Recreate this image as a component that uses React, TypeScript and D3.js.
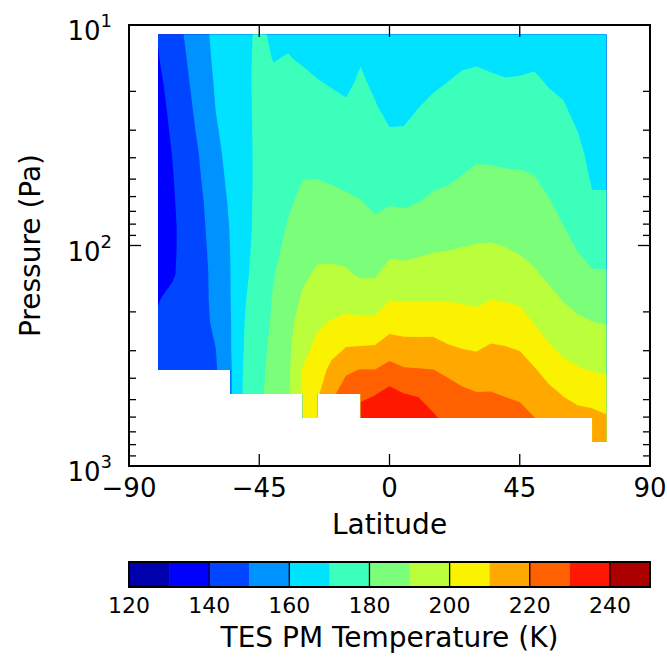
import React from 'react';
import * as d3 from 'd3';

// Latitude grid (deg) and pressure levels (Pa), top (low pressure) to bottom
const LATITUDES = [-80, -75, -70, -65, -60, -55, -50, -45, -40, -35, -30, -25, -20, -15, -10, -5, 0, 5, 10, 15, 20, 25, 30, 35, 40, 45, 50, 55, 60, 65, 70, 75];
const PRESSURES = [11.0, 14.2, 18.2, 23.3, 30.0, 38.5, 49.5, 63.5, 81.7, 104.9, 134.9, 173.0, 222.3, 285.8, 367.3, 471.0, 605.3, 778.0];

// Temperature (K) per latitude column, one value per pressure level (null = no data)
const T_m80 = [140.4, 139.5, 138.1, 137, 136.3, 135.5, 135, 134.7, 135, 135.5, 137, 139.5, 141, 142, 143, null, null, null];
const T_m75 = [145.6, 144.6, 143.3, 142.2, 141.1, 140.2, 139.5, 139, 138.6, 138.7, 139.1, 141.8, 142.8, 143.5, 144.5, null, null, null];
const T_m70 = [151.3, 150.1, 148.9, 147.8, 146.7, 145.6, 144.9, 144.1, 143.4, 143.2, 143.3, 144.9, 145.5, 145.6, 146, null, null, null];
const T_m65 = [157.4, 156.4, 155, 153.6, 152.3, 150.9, 150.1, 149, 148.3, 147.7, 147.2, 147.8, 148.2, 147.8, 147.5, null, null, null];
const T_m60 = [162.1, 161.7, 161, 160.3, 159.1, 157.7, 156.5, 155.2, 154.3, 153.6, 153, 152.2, 151.2, 150.1, 149.1, null, null, null];
const T_m55 = [165.3, 165.1, 164.7, 164.3, 163.8, 163.1, 162.3, 161.3, 160.5, 160.1, 159.9, 159.8, 159.4, 159.3, 158.6, 158.5, null, null];
const T_m50 = [168.8, 168.8, 168.7, 168.6, 168.4, 168.3, 168.1, 167.8, 167.6, 167.9, 168.3, 169.4, 170.1, 170.8, 171.7, 172.2, null, null];
const T_m45 = [171, 171.3, 171.5, 171.5, 171.5, 171.5, 171.6, 172.1, 172.5, 173.2, 174.1, 175, 175.6, 176.7, 177.5, 178.3, null, null];
const T_m40 = [169, 169.8, 171, 172, 172.8, 173.6, 174.4, 175.6, 176.7, 178.1, 179.6, 180.8, 181.5, 182.7, 183.4, 183.7, null, null];
const T_m35 = [168.9, 170.3, 171.7, 173.2, 174.6, 176, 176.9, 178.8, 180.6, 182.1, 183.9, 185.7, 186.9, 188.1, 188.2, 188.3, null, null];
const T_m30 = [167.3, 169.3, 171.5, 173.6, 175.7, 177.8, 179.8, 182, 184.2, 186.4, 188.5, 191, 194.3, 196.7, 200.5, 202, 204, null];
const T_m25 = [165.6, 168, 170.4, 172.8, 175.1, 177.5, 179.9, 182.6, 185.4, 188.2, 191.2, 194.8, 198.5, 202, 205.5, 208.5, 206, null];
const T_m20 = [164.5, 166.9, 169.4, 171.8, 174.3, 176.7, 179.2, 182, 185, 188, 191.5, 195.9, 200.5, 206.5, 212.5, 218, null, null];
const T_m15 = [163.4, 165.9, 168.4, 170.9, 173.4, 175.9, 178.4, 181.2, 184.3, 187.5, 191, 196.7, 201.7, 209.7, 218.5, 225, null, null];
const T_m10 = [167.6, 169.4, 171.2, 173, 174.8, 176.6, 178.4, 180.2, 183.2, 186.1, 189, 194.7, 202, 210, 220.4, 228, 234, null];
const T_m5 = [164.4, 166.4, 168.5, 170.5, 172.5, 174.6, 176.6, 178.6, 181.3, 185.2, 189, 195, 202, 210.4, 220.2, 229.6, 236, null];
const T_0 = [162, 163.5, 165, 167.4, 170.4, 173.3, 176.3, 179.3, 183.5, 188.1, 193.4, 199.3, 206, 214, 223.6, 233, 238, null];
const T_5 = [162, 163.5, 165.2, 167.6, 170.5, 173.3, 176.1, 178.9, 183, 187.6, 193, 199, 205.7, 212.7, 221, 230.2, 237, null];
const T_10 = [163, 164.8, 167, 169.8, 172.3, 174.8, 177.4, 179.9, 184.2, 188.5, 193.5, 198.9, 205.6, 212.6, 220.6, 229, 236, null];
const T_15 = [164, 166.5, 168.9, 171.3, 173.6, 176, 178.3, 181.4, 185.5, 189.5, 194.2, 199, 205.6, 212.8, 220.2, 225.8, 231.4, null];
const T_20 = [165.5, 167.7, 170, 172.3, 174.5, 176.8, 179, 182.2, 186, 189.8, 194.5, 199.2, 204.8, 210.5, 218.4, 223.6, 227.5, null];
const T_25 = [166.6, 168.9, 171.1, 173.4, 175.7, 177.9, 180.3, 183.6, 186.9, 190.4, 194.6, 198.8, 203.9, 209.3, 215.7, 222, 226, null];
const T_30 = [166.8, 169.2, 171.6, 174.1, 176.5, 178.9, 181.6, 184.6, 187.6, 190.8, 194.5, 198.2, 202.9, 208.6, 214.5, 220.5, 225, null];
const T_35 = [166, 168.5, 171.1, 173.6, 176.2, 178.7, 181.5, 184.6, 187.7, 191.1, 195.4, 199.6, 205.1, 210.6, 215.6, 220.5, 225, null];
const T_40 = [165.3, 168, 170.5, 173.2, 175.8, 178.4, 181.1, 184.2, 187.2, 190.4, 194.7, 199.1, 204.4, 210, 214.7, 219.4, 224, null];
const T_45 = [165.7, 168.2, 170.7, 173.3, 175.8, 178.3, 180.9, 183.7, 186.4, 189.2, 193.4, 198.2, 203.5, 209, 213.8, 218.5, 223, null];
const T_50 = [166.4, 168.7, 171.1, 173.4, 175.7, 178.1, 180.3, 182.9, 185.4, 188, 190.9, 195.2, 199.5, 205.1, 210.8, 215.5, 220.2, null];
const T_55 = [165.1, 167.3, 169.5, 171.6, 173.8, 176, 178.2, 180.4, 183.1, 185.8, 188.5, 192, 196.3, 200.7, 206.6, 212.4, 216, null];
const T_60 = [164.7, 166.6, 168.6, 170.5, 172.4, 174.3, 176.2, 178.1, 180.1, 183.1, 186.2, 189.4, 193.3, 197.5, 202.8, 209.5, 214, null];
const T_65 = [162.1, 164.1, 166.1, 168, 169.9, 172, 173.9, 175.9, 177.9, 179.8, 183.5, 187.3, 191.3, 195.9, 200.8, 207.3, 213, null];
const T_70 = [162, 163, 164, 165, 166.2, 167.7, 169.1, 170.9, 174.1, 177.3, 180.8, 185.4, 190.1, 194.8, 199.6, 205.6, 213, 215];
const T_75 = [162, 163, 164, 165, 166.2, 167.7, 169.1, 170.9, 174.1, 177.3, 180.7, 185, 189.4, 194.2, 199, 204.2, 211, 213];

const COLUMNS = [T_m80, T_m75, T_m70, T_m65, T_m60, T_m55, T_m50, T_m45, T_m40, T_m35, T_m30, T_m25, T_m20, T_m15, T_m10, T_m5, T_0, T_5, T_10, T_15, T_20, T_25, T_30, T_35, T_40, T_45, T_50, T_55, T_60, T_65, T_70, T_75];

// Contour levels and colours (jet, 13 bands)
const LEVELS = [120, 130, 140, 150, 160, 170, 180, 190, 200, 210, 220, 230, 240, 250];
const BAND_COLORS = ['#0000ac', '#0000ff', '#0045ff', '#0093ff', '#00e2ff', '#3cffbb', '#7bff7b', '#bbff3c', '#faf200', '#ffa900', '#ff6000', '#ff1800', '#ac0000'];
const X_TICKS = [-90, -45, 0, 45, 90];
const Y_MAJOR = [10, 100, 1000];
const Y_EXP = ['1', '2', '3'];
const Y_MINOR = [20, 30, 40, 50, 60, 70, 80, 90, 200, 300, 400, 500, 600, 700, 800, 900];
const CB_TICKS = [120, 140, 160, 180, 200, 220, 240];

const FONT = 'DejaVu Sans, Liberation Sans, sans-serif';
const L = 129, R = 650, T = 25, B = 466;
const CB_T = 562, CB_B = 587;

export default function App() {
  const x = d3.scaleLinear().domain([-90, 90]).range([L, R]);
  const y = d3.scaleLog().domain([10, 1000]).range([T, B]);
  const cb = d3.scaleLinear().domain([120, 250]).range([L, R]);

  const nx = LATITUDES.length;
  const ny = PRESSURES.length;
  const grid: number[] = new Array(nx * ny);
  for (let j = 0; j < ny; j++) {
    for (let i = 0; i < nx; i++) {
      const v = COLUMNS[i][j];
      grid[j * nx + i] = v == null ? -1e6 : v;
    }
  }
  const contours = d3.contours().size([nx, ny]).thresholds(LEVELS.slice(0, 13))(grid);

  const fx = (c: number) => {
    const f = Math.max(0, Math.min(nx - 1, c - 0.5));
    const i0 = Math.min(nx - 2, Math.floor(f));
    const t = f - i0;
    return x(LATITUDES[i0] + (LATITUDES[i0 + 1] - LATITUDES[i0]) * t);
  };
  const fy = (c: number) => {
    const f = Math.max(0, Math.min(ny - 1, c - 0.5));
    const j0 = Math.min(ny - 2, Math.floor(f));
    const t = f - j0;
    const lp = Math.log10(PRESSURES[j0]) + (Math.log10(PRESSURES[j0 + 1]) - Math.log10(PRESSURES[j0])) * t;
    return y(Math.pow(10, lp));
  };
  const toPath = (geom: any) => {
    let s = '';
    for (const poly of geom.coordinates) {
      for (const ring of poly) {
        ring.forEach((p: number[], k: number) => {
          s += (k === 0 ? 'M' : 'L') + fx(p[0]).toFixed(2) + ',' + fy(p[1]).toFixed(2);
        });
        s += 'Z';
      }
    }
    return s;
  };

  // valid region: cells whose four corners all have data, merged per row into one path
  let clipD = '';
  for (let j = 0; j < ny - 1; j++) {
    let i = 0;
    while (i < nx - 1) {
      const ok = (k: number) =>
        COLUMNS[k][j] != null && COLUMNS[k + 1][j] != null && COLUMNS[k][j + 1] != null && COLUMNS[k + 1][j + 1] != null;
      if (!ok(i)) { i++; continue; }
      let e = i;
      while (e + 1 < nx - 1 && ok(e + 1)) e++;
      const x0 = x(LATITUDES[i]), x1 = x(LATITUDES[e + 1]);
      const y0 = y(PRESSURES[j]) - (j > 0 ? 0.6 : 0), y1 = y(PRESSURES[j + 1]);
      clipD += `M${x0.toFixed(2)},${y0.toFixed(2)}H${x1.toFixed(2)}V${y1.toFixed(2)}H${x0.toFixed(2)}Z`;
      i = e + 1;
    }
  }

  return (
    <svg width={667} height={658} style={{ position: 'absolute', left: 0, top: 0, background: '#fff' }} fontFamily={FONT}>
      <defs>
        <clipPath id="valid">
          <path d={clipD} clipRule="nonzero" />
        </clipPath>
      </defs>
      <rect x={0} y={0} width={667} height={658} fill="#fff" />
      <g clipPath="url(#valid)">
        {contours.map((c, k) =>
          c.coordinates.length ? <path key={k} d={toPath(c)} fill={BAND_COLORS[k]} fillRule="evenodd" stroke="none" /> : null
        )}
      </g>

      {/* ticks */}
      <g stroke="#000" strokeWidth={1.3}>
        {X_TICKS.map((v) => (
          <g key={'xt' + v}>
            <line x1={x(v)} x2={x(v)} y1={B} y2={B - 12} />
            <line x1={x(v)} x2={x(v)} y1={T} y2={T + 12} />
          </g>
        ))}
        {Y_MAJOR.map((v) => (
          <g key={'ym' + v}>
            <line x1={L} x2={L + 12} y1={y(v)} y2={y(v)} />
            <line x1={R} x2={R - 12} y1={y(v)} y2={y(v)} />
          </g>
        ))}
        {Y_MINOR.map((v) => (
          <g key={'yn' + v}>
            <line x1={L} x2={L + 7} y1={y(v)} y2={y(v)} />
            <line x1={R} x2={R - 7} y1={y(v)} y2={y(v)} />
          </g>
        ))}
      </g>
      <rect x={L} y={T} width={R - L} height={B - T} fill="none" stroke="#000" strokeWidth={2} />

      {/* x tick labels */}
      {X_TICKS.map((v) => (
        <text key={'xl' + v} x={x(v)} y={497} fontSize={26} textAnchor="middle" fill="#000">
          {v < 0 ? '\u2212' + Math.abs(v) : String(v)}
        </text>
      ))}
      {/* y tick labels */}
      {Y_MAJOR.map((v, k) => (
        <text key={'yl' + v} x={112} y={y(v) + 15} fontSize={26} textAnchor="end" fill="#000">
          10<tspan dy={-13} fontSize={18}>{Y_EXP[k]}</tspan>
        </text>
      ))}

      <text x={(L + R) / 2} y={534} fontSize={28} textAnchor="middle" fill="#000">Latitude</text>
      <text transform={`translate(40,${(T + B) / 2}) rotate(-90)`} fontSize={28} textAnchor="middle" fill="#000">Pressure (Pa)</text>

      {/* colorbar */}
      {BAND_COLORS.map((c, k) => (
        <rect key={'cb' + k} x={cb(LEVELS[k])} y={CB_T} width={cb(LEVELS[k + 1]) - cb(LEVELS[k]) + 0.5} height={CB_B - CB_T} fill={c} />
      ))}
      {CB_TICKS.map((v) => (
        <line key={'cbt' + v} x1={cb(v)} x2={cb(v)} y1={CB_T} y2={CB_B} stroke="#000" strokeWidth={1.3} />
      ))}
      <rect x={L} y={CB_T} width={R - L} height={CB_B - CB_T} fill="none" stroke="#000" strokeWidth={2} />
      {CB_TICKS.map((v) => (
        <text key={'cbl' + v} x={cb(v)} y={613} fontSize={22} textAnchor="middle" fill="#000">{v}</text>
      ))}
      <text x={(L + R) / 2} y={647} fontSize={28} textAnchor="middle" fill="#000">TES PM Temperature (K)</text>
    </svg>
  );
}
